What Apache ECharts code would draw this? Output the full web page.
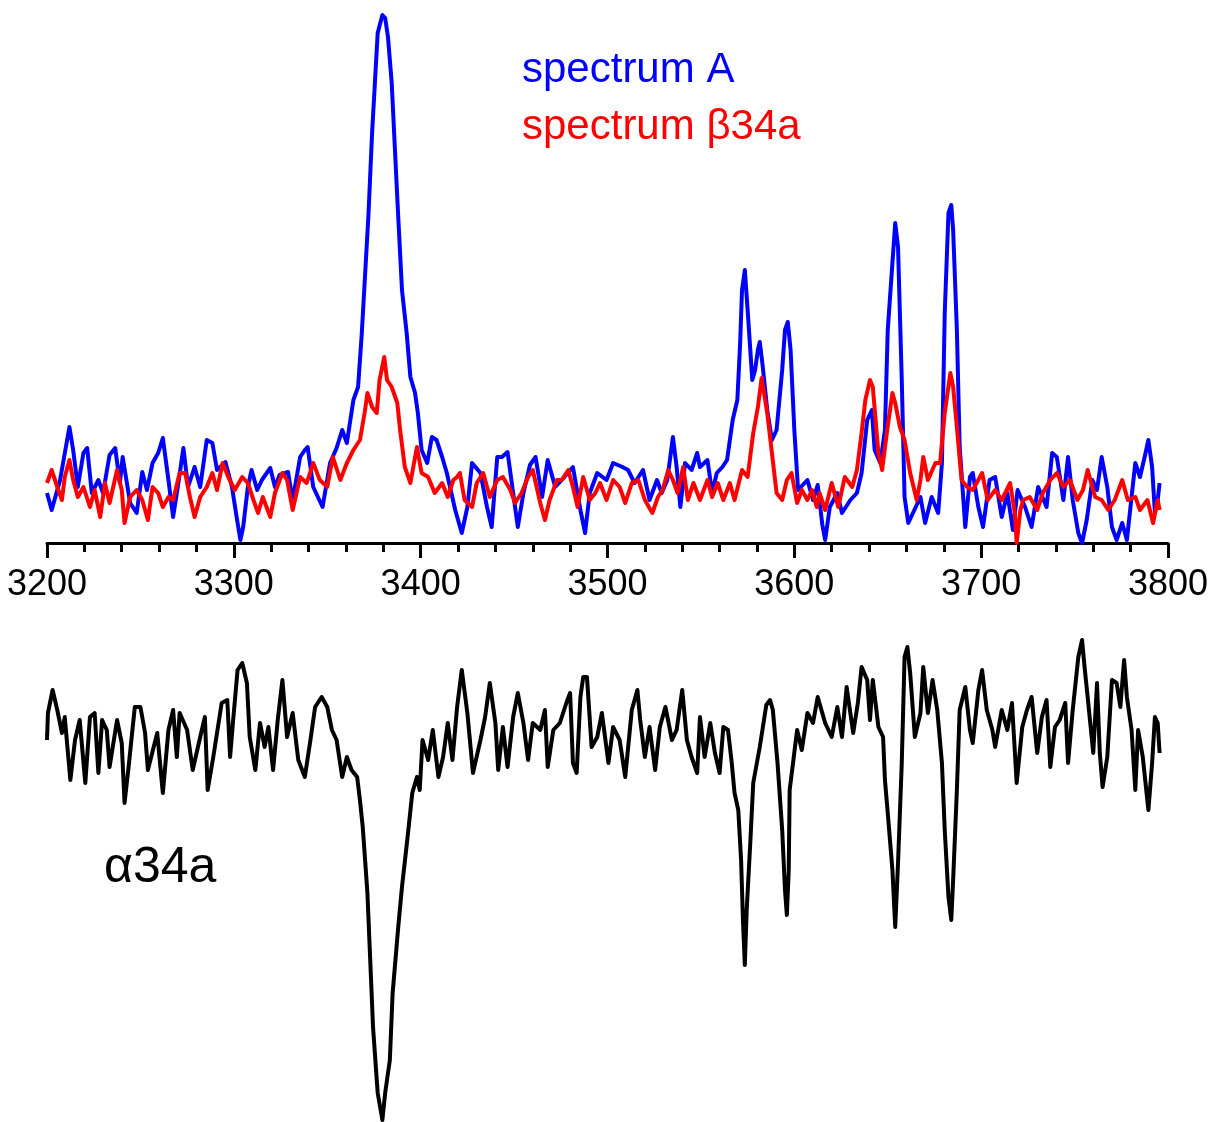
<!DOCTYPE html>
<html>
<head>
<meta charset="utf-8">
<script src="https://cdn.jsdelivr.net/npm/echarts@6/dist/echarts.min.js"></script>
<style>
html,body{margin:0;padding:0;background:#fff;}
#chart{width:1212px;height:1122px;}
</style>
</head>
<body>
<div id="chart"></div>
<script>
// x: wavenumber (cm-1); y: intensity, arbitrary units
const xTicks = [3200, 3300, 3400, 3500, 3600, 3700, 3800];

const spectrumA = [
[3200,50],[3202.5,33],[3207,63],[3212,116],[3214,93],[3216.5,56],[3219.5,90],[3221.5,95],[3224,50],[3227.5,63],
[3230,50],[3233.5,88],[3236.5,95],[3239,60],[3240.5,86],[3244.5,40],[3248,30],[3251,71],[3253.5,53],[3256.5,80],
[3259.5,90],[3262,105],[3265,63],[3267.5,26],[3270,56],[3273,95],[3275.5,56],[3279,76],[3282,56],[3285.5,103],
[3288.5,100],[3291,73],[3295.5,81],[3299,56],[3301.5,26],[3303.5,3],[3305,16],[3307.5,56],[3309.5,73],[3312.5,53],
[3315,63],[3319.5,75],[3322,56],[3324.5,68],[3329,71],[3331.5,43],[3335.5,86],[3338,93],[3339.5,96],[3342.5,56],
[3347.5,36],[3351.5,80],[3355,95],[3358,113],[3360.5,100],[3364,143],[3366.5,156],[3368.5,210],[3370,260],[3372,326],
[3374,410],[3375.5,460],[3377,510],[3379.5,528],[3381,525],[3382.5,506],[3384.5,460],[3386.5,383],[3388,326],[3390,253],
[3392.5,210],[3394.5,166],[3397,150],[3398.5,130],[3400.5,93],[3403.5,80],[3406,106],[3408.5,103],[3411.5,86],[3414,70],
[3418.5,33],[3422,10],[3425,36],[3427.5,80],[3432,70],[3435.5,36],[3438,16],[3441,86],[3443.5,86],[3446.5,91],
[3449.5,50],[3452,16],[3455,50],[3458.5,78],[3461.5,86],[3465,46],[3468,83],[3472,56],[3475.5,63],[3481.5,76],
[3485.5,33],[3488,10],[3490.5,50],[3494.5,70],[3499.5,63],[3503,80],[3508,76],[3511,73],[3514.5,60],[3519,73],
[3522.5,43],[3526.5,63],[3529,50],[3532,63],[3535,106],[3537,76],[3539,36],[3541.5,80],[3545,73],[3548,90],
[3549.5,76],[3553.5,83],[3556,50],[3558.5,70],[3561.5,76],[3564,83],[3565.5,103],[3567,123],[3569.5,143],[3571,200],
[3572,253],[3573.5,273],[3575,233],[3577.5,163],[3579,173],[3580.5,193],[3581.5,201],[3583,178],[3585.5,133],[3588,103],
[3590.5,113],[3593.5,173],[3595,213],[3596.5,221],[3598,193],[3600,113],[3602,53],[3604.5,58],[3607,63],[3610,43],
[3612.5,58],[3615,18],[3616.5,3],[3619,36],[3623,50],[3625.5,30],[3630,43],[3633.5,50],[3636,70],[3639,123],
[3641.5,133],[3643,93],[3646,80],[3648.5,113],[3650,213],[3652.5,280],[3654,320],[3655.5,296],[3657.5,163],[3659,46],
[3661,20],[3663.5,30],[3667.5,46],[3670,20],[3673.5,46],[3677,30],[3679,80],[3680.5,230],[3682.5,330],[3684,338],
[3685,313],[3687,213],[3688.5,96],[3691.5,16],[3694,66],[3695.5,70],[3698.5,36],[3701,16],[3704.5,63],[3707.5,66],
[3711,26],[3714,50],[3717,13],[3719.5,53],[3723.5,36],[3727,16],[3730.5,56],[3735,36],[3738,90],[3740.5,86],
[3744,43],[3746.5,86],[3749,43],[3752,10],[3754,0],[3756.5,23],[3759.5,63],[3762,53],[3764.5,86],[3767.5,56],
[3770,16],[3772.5,3],[3775.5,20],[3778,3],[3780.5,46],[3782.5,80],[3785,66],[3787.5,86],[3789.5,103],[3791.5,76],
[3793,30],[3794.5,43],[3795.5,60]
];

const spectrumBeta = [
[3200,60],[3202.5,73],[3205.5,56],[3208,43],[3209.5,66],[3212,83],[3214,63],[3216.5,46],[3219.5,56],[3223,36],
[3225.5,53],[3228.5,26],[3231,60],[3233.5,40],[3237.5,73],[3240,53],[3241.5,20],[3244.5,46],[3248,53],[3251,43],
[3254,23],[3256.5,56],[3259.5,50],[3262,36],[3265,46],[3267.5,43],[3271,70],[3274,70],[3276.5,46],[3279,26],
[3282,46],[3285.5,56],[3288.5,70],[3291,53],[3294,80],[3297,66],[3300.5,53],[3304.5,66],[3307.5,60],[3310.5,43],
[3313,30],[3315.5,46],[3319.5,26],[3322,50],[3326,70],[3328.5,63],[3331.5,33],[3335.5,66],[3339,60],[3342.5,80],
[3346,63],[3350,56],[3353,86],[3357,63],[3360.5,80],[3364,93],[3367.5,103],[3370,130],[3371.5,150],[3374,136],
[3376.5,130],[3378,163],[3380.5,186],[3382,163],[3384.5,156],[3387.5,140],[3389,113],[3391.5,76],[3394.5,60],[3398,96],
[3400.5,70],[3404,66],[3407.5,50],[3411.5,60],[3414.5,46],[3417.5,63],[3419.5,66],[3421,70],[3423.5,43],[3427.5,36],
[3430,60],[3433.5,70],[3437,46],[3441,63],[3444,66],[3448,53],[3450.5,40],[3454,50],[3457.5,66],[3460,73],
[3464,40],[3466.5,23],[3469,43],[3473,63],[3475.5,63],[3479,73],[3481.5,56],[3484,36],[3487,66],[3490.5,43],
[3493.5,50],[3496,60],[3499.5,43],[3503,63],[3506.5,56],[3509.5,40],[3513,60],[3516.5,63],[3520,43],[3524,30],
[3527,46],[3529.5,53],[3532.5,73],[3535,63],[3537.5,50],[3540.5,76],[3543,43],[3546,60],[3549.5,43],[3553.5,63],
[3556,46],[3559,60],[3562,43],[3565.5,60],[3568,43],[3572,73],[3575,66],[3578,110],[3580.5,136],[3582.5,165],
[3585.5,130],[3588,90],[3590.5,50],[3593.5,43],[3596,63],[3598.5,70],[3601.5,40],[3604,53],[3607,43],[3609.5,53],
[3612,36],[3613.5,50],[3616.5,33],[3620,60],[3623.5,36],[3627,66],[3631,56],[3633.5,73],[3636,110],[3638,143],
[3640.5,163],[3642,156],[3645,90],[3647,73],[3649.5,110],[3652.5,150],[3654,140],[3656.5,116],[3659,103],[3662,70],
[3665.5,43],[3667.5,63],[3669,86],[3671.5,63],[3675.5,80],[3678,80],[3680.5,130],[3683.5,170],[3685,156],[3687,116],
[3689.5,63],[3692.5,56],[3695.5,53],[3700.5,70],[3703.5,43],[3707.5,53],[3711,43],[3715.5,60],[3718,30],[3719,0],
[3721,33],[3722.5,43],[3726,46],[3730,33],[3733,50],[3737,63],[3740.5,70],[3744,56],[3747.5,63],[3751.5,43],
[3754.5,53],[3757,73],[3761,46],[3764.5,43],[3768,33],[3771.5,43],[3775.5,63],[3778.5,43],[3782.5,46],[3785,33],
[3789,43],[3792,20],[3794.5,43],[3795.5,33]
];

const spectrumAlpha = [
[3200,-20],[3200.5,7],[3203,30],[3205.5,10],[3208,-13],[3209.5,3],[3212.5,-60],[3215,-20],[3217.5,0],[3220.5,-63],
[3223,3],[3225.5,7],[3227.5,-53],[3229.5,0],[3232,-10],[3233.5,-47],[3237.5,0],[3240,-23],[3241.5,-83],[3243.5,-50],
[3247,13],[3250,13],[3252.5,-13],[3254,-50],[3259,-13],[3262,-73],[3265,-10],[3267.5,10],[3269.5,-37],[3271,7],
[3275,-10],[3278,-50],[3282,-17],[3284.5,3],[3286,-70],[3289,-37],[3291,-13],[3293.5,17],[3296.5,20],[3298,-37],
[3299.5,-3],[3302,50],[3304.5,57],[3307,37],[3308.5,-17],[3311.5,-50],[3314,-3],[3316.5,-27],[3318.5,-7],[3321,-50],
[3323.5,0],[3326,40],[3328.5,-17],[3331.5,7],[3334.5,-40],[3338,-57],[3341,-20],[3343.5,13],[3347,23],[3350,13],
[3352.5,-10],[3355,-20],[3358,-57],[3360.5,-37],[3363,-50],[3366,-57],[3367.5,-80],[3369,-107],[3371.5,-173],[3373,-240],
[3374.5,-307],[3377,-373],[3379.5,-400],[3381,-373],[3383.5,-340],[3385,-273],[3388,-207],[3390,-167],[3393,-117],[3395.5,-73],
[3398,-57],[3399.5,-70],[3401,-20],[3404,-40],[3406.5,-10],[3409.5,-57],[3412,-37],[3414.5,-3],[3417,-40],[3419.5,13],
[3422,50],[3425,7],[3428,-53],[3432,-20],[3434.5,3],[3437,37],[3440,-3],[3441.5,-50],[3444,-7],[3446.5,-47],
[3449.5,3],[3452,27],[3455,-3],[3457.5,-40],[3460,-3],[3464,-10],[3466.5,10],[3468,-47],[3471,-10],[3474.5,-3],
[3478.5,20],[3480,27],[3481.5,-43],[3483.5,-53],[3485.5,23],[3487,43],[3489,43],[3491.5,-27],[3494.5,-17],[3497,7],
[3500.5,-43],[3503,-7],[3506.5,-20],[3509.5,-57],[3513,10],[3516,30],[3517.5,0],[3520,-37],[3522.5,-7],[3525.5,-50],
[3528,-7],[3531,13],[3534.5,-20],[3537,-10],[3540,30],[3542.5,-20],[3545,-37],[3548,-53],[3549.5,3],[3552,-37],
[3555,-3],[3557.5,-33],[3560,-53],[3562,-7],[3564.5,-10],[3566.5,-43],[3568,-73],[3570,-90],[3571.5,-140],[3572.5,-200],
[3573.5,-245],[3574.5,-190],[3576.5,-120],[3578,-63],[3581.5,-27],[3585,15],[3587,20],[3588.5,10],[3591,-43],[3593.5,-110],
[3595,-170],[3596,-195],[3597,-150],[3597.5,-70],[3601.5,-10],[3604,-30],[3607,7],[3610,-3],[3612.5,23],[3613.5,23],
[3616.5,-3],[3620,-17],[3623,13],[3625.5,-17],[3628,33],[3631.5,-13],[3634,17],[3636,53],[3639,40],[3640.5,0],
[3642,40],[3645,-7],[3647.5,-17],[3648.5,-60],[3650,-93],[3652.5,-150],[3654,-207],[3655.5,-143],[3657.5,-43],[3659,63],
[3660.5,73],[3662,47],[3664.5,-17],[3667.5,7],[3669,53],[3671.5,7],[3674,40],[3676.5,10],[3679,-43],[3680.5,-110],
[3682.5,-177],[3684,-200],[3685,-160],[3687,-70],[3688.5,10],[3691.5,33],[3694,-10],[3695.5,-23],[3698.5,30],[3700.5,50],
[3703,10],[3706,-10],[3707.5,-27],[3711,10],[3714,-10],[3716.5,17],[3719,-63],[3722,-7],[3724.5,10],[3727,23],
[3730,-33],[3732.5,3],[3735,20],[3737,-47],[3739.5,-7],[3742,0],[3745,17],[3746.5,-43],[3749,10],[3752,63],
[3754,80],[3755.5,50],[3757,23],[3760,-33],[3762,37],[3763.5,-33],[3765,-67],[3767.5,-37],[3770,40],[3772.5,37],
[3774.5,13],[3776.5,60],[3778,23],[3780.5,-10],[3782.5,-70],[3784,-10],[3786.5,-37],[3789.5,-90],[3791.5,-43],[3793,3],
[3794.5,-3],[3795.5,-33]
];

const labels = ['spectrum A', 'spectrum \u03b234a', '\u03b134a'];

const chart = echarts.init(document.getElementById('chart'), null, {renderer: 'canvas'});
const FONT = '"Liberation Sans", Arial, sans-serif';
chart.setOption({
  animation: false,
  backgroundColor: '#ffffff',
  grid: [
    {left: 47, right: 44, top: 3, height: 540},
    {left: 47, right: 44, top: 630, height: 490}
  ],
  xAxis: [
    {
      gridIndex: 0, type: 'value', min: xTicks[0], max: xTicks[xTicks.length - 1], interval: 100,
      axisLine: {show: true, onZero: false, lineStyle: {color: '#000', width: 3}},
      axisTick: {show: true, length: 15, lineStyle: {color: '#000', width: 3}},
      minorTick: {show: true, splitNumber: 5, length: 9, lineStyle: {color: '#000', width: 3}},
      splitLine: {show: false},
      axisLabel: {show: true, color: '#000', fontSize: 36, fontFamily: FONT, margin: 24,
                  formatter: function (v) { return String(v); }}
    },
    {
      gridIndex: 1, type: 'value', min: xTicks[0], max: xTicks[xTicks.length - 1], show: false
    }
  ],
  yAxis: [
    {gridIndex: 0, type: 'value', min: 0, max: 540, show: false},
    {gridIndex: 1, type: 'value', min: -400, max: 90, show: false}
  ],
  series: [
    {name: labels[0], type: 'line', xAxisIndex: 0, yAxisIndex: 0, data: spectrumA, showSymbol: false,
     lineStyle: {color: '#0000ff', width: 4, join: 'round'}, itemStyle: {color: '#0000ff'}, z: 2},
    {name: labels[1], type: 'line', xAxisIndex: 0, yAxisIndex: 0, data: spectrumBeta, showSymbol: false,
     lineStyle: {color: '#ff0000', width: 4, join: 'round'}, itemStyle: {color: '#ff0000'}, z: 3},
    {name: labels[2], type: 'line', xAxisIndex: 1, yAxisIndex: 1, data: spectrumAlpha, showSymbol: false,
     lineStyle: {color: '#000000', width: 4, join: 'round'}, itemStyle: {color: '#000'}, z: 2}
  ],
  graphic: [
    {type: 'text', left: 522, top: 49, style: {text: labels[0], fill: '#0000ff', font: '42px ' + FONT}},
    {type: 'text', left: 522, top: 106, style: {text: labels[1], fill: '#ff0000', font: '42px ' + FONT}},
    {type: 'text', left: 104, top: 843, style: {text: labels[2], fill: '#000000', font: '50px ' + FONT}}
  ]
});
</script>
</body>
</html>
